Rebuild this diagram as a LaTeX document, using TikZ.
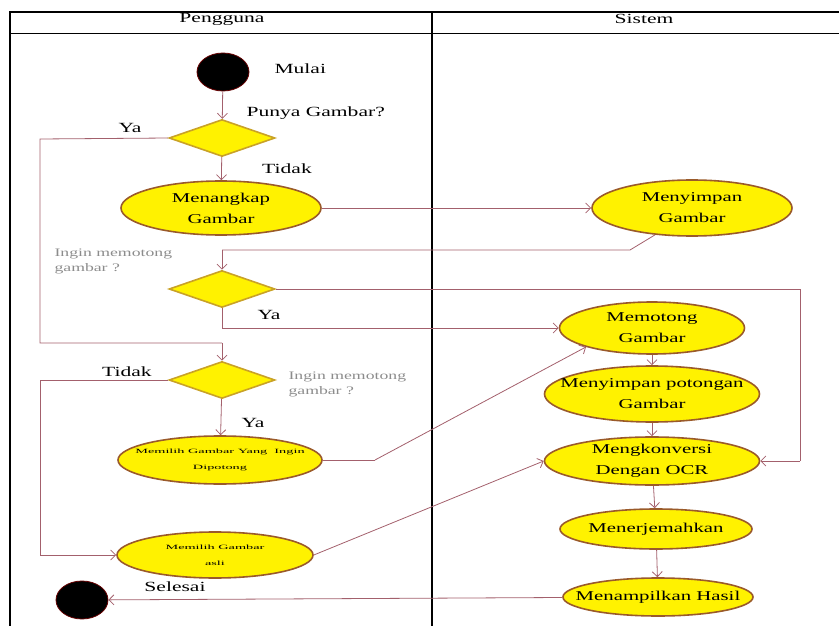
\documentclass[tikz,border=0pt]{standalone}
\usepackage{fontspec}
\setmainfont{Liberation Serif}[FakeStretch=1.54]
\newfontfamily\tinyserif{Liberation Serif}[FakeStretch=2.2]
\usepackage{tikz}
\usetikzlibrary{positioning}
\usetikzlibrary{arrows,arrows.meta,shapes}
\usetikzlibrary{shapes.geometric}
\definecolor{flowcol}{HTML}{A3606C}
\definecolor{rimcol}{HTML}{9A5A2A}
\definecolor{diacol}{HTML}{C9A227}
\definecolor{actfill}{HTML}{FFF200}
\tikzstyle{activity}=[ellipse,draw=rimcol,line width=1.6pt,fill=actfill,inner xsep=-45pt,inner ysep=-20pt,align=center,font=\fontsize{13.5}{21}\selectfont]
\tikzstyle{smallactivity}=[activity,font=\tinyserif\fontsize{6.5}{16}\selectfont]
\tikzstyle{decision}=[diamond,draw=diacol,line width=1.6pt,fill=actfill,inner sep=0pt,minimum width=106pt,minimum height=37pt]
\tikzstyle{terminal}=[ellipse,fill=black,draw=black!60!red,line width=0.8pt,minimum width=52pt,minimum height=38pt,inner sep=0pt]
\tikzstyle{flow} = [draw,flowcol,line width=0.8pt,-{Straight Barb[length=5pt,width=10pt]}]
\tikzstyle{line} = [draw,flowcol,line width=0.8pt]
\tikzstyle{guard} = [font=\fontsize{14}{16}\selectfont]
\tikzstyle{note} = [font=\fontsize{11.5}{15}\selectfont,text=black!45,align=left]

\begin{document}
\begin{tikzpicture}[x=1pt,y=-1pt]
    \useasboundingbox (0,0) rectangle (839,626);

    % swimlanes
    \draw[line width=1.6pt] (839,12) -- (10,12) -- (10,626);
    \draw[line width=0.8pt] (10,33) -- (839,33);
    \draw[line width=1.2pt] (432,12) -- (432,626);
    \node[guard] (pengguna) at (222,19) {Pengguna};
    \node[guard] (sistem) at (644,19) {Sistem};

    % Pengguna lane
    \node[terminal] (mulai) at (223,72) {};
    \node[decision] (punya) at (222,138) {};
    \node[activity,minimum width=200pt,minimum height=54pt] (menangkap) at (221,208) {Menangkap\\Gambar};
    \node[decision] (potong1) at (222,289) {};
    \node[decision] (potong2) at (222,380) {};
    \node[smallactivity,minimum width=204pt,minimum height=48pt] (pilihpotong) at (220,460) {Memilih Gambar Yang\ \ Ingin\\Dipotong};
    \node[smallactivity,minimum width=196pt,minimum height=46pt] (pilihasli) at (215,555) {Memilih Gambar\\asli};
    \node[terminal] (selesai) at (82,600) {};

    % Sistem lane
    \node[activity,minimum width=200pt,minimum height=56pt] (simpan) at (692,208) {Menyimpan\\Gambar};
    \node[activity,minimum width=185pt,minimum height=52pt] (memotong) at (652,328) {Memotong\\Gambar};
    \node[activity,minimum width=215pt,minimum height=56pt] (simpanpotong) at (652,394) {Menyimpan potongan\\Gambar};
    \node[activity,minimum width=215pt,minimum height=48pt] (konversi) at (652,461) {Mengkonversi\\Dengan OCR};
    \node[activity,minimum width=192pt,minimum height=40pt] (terjemah) at (656,529) {Menerjemahkan};
    \node[activity,minimum width=190pt,minimum height=38pt] (hasil) at (658,597) {Menampilkan Hasil};

    % texts
    \node[guard,anchor=west] (lblmulai) at (271,69) {Mulai};
    \node[guard,anchor=west] (lblpunya) at (243,113) {Punya Gambar?};
    \node[guard] (lblya1) at (130,128) {Ya};
    \node[guard] (lbltidak1) at (287,169) {Tidak};
    \node[note,anchor=west] (tanya1) at (51,261) {Ingin memotong\\gambar ?};
    \node[guard] (lblya2) at (269,315) {Ya};
    \node[guard] (lbltidak2) at (127,372) {Tidak};
    \node[note,anchor=west] (tanya2) at (285,384) {Ingin memotong\\gambar ?};
    \node[guard] (lblya3) at (253,423) {Ya};
    \node[guard] (lblselesai) at (175,587) {Selesai};

    % bend points
    \coordinate (kiri1) at (40,139);
    \coordinate (kiri1b) at (40,343);
    \coordinate (tengah1) at (222,343);
    \coordinate (belok1) at (630,250);
    \coordinate (tengah2) at (222,250);
    \coordinate (kanan1) at (800,289);
    \coordinate (kanan1b) at (800,461);
    \coordinate (ya2) at (222,328);
    \coordinate (kiri2) at (40,380);
    \coordinate (belok2) at (375,460);

    % connectors
    \path[flow] (mulai) -- (punya);
    \path[flow] (punya) -- (menangkap);
    \path[flow] (menangkap) -- (simpan);
    \path[line] (punya.west) -- (kiri1) -- (kiri1b) -- (tengah1);
    \path[flow] (tengah1) -- (potong2.north);
    \path[line] (simpan.-144) -- (belok1) -- (tengah2);
    \path[flow] (tengah2) -- (potong1.north);
    \path[line] (potong1.east) -- (kanan1) -- (kanan1b);
    \path[flow] (kanan1b) -- (konversi.east);
    \path[line] (potong1.south) -- (ya2);
    \path[flow] (ya2) -- (memotong.west);
    \path[line] (potong2.west) -- (kiri2);
    \path[flow] (kiri2) |- (pilihasli.west);
    \path[flow] (potong2) -- (pilihpotong);
    \path[line] (pilihpotong.east) -- (belok2);
    \path[flow] (belok2) -- (memotong.south west);
    \path[flow] (pilihasli.east) -- (konversi.west);
    \foreach \source/\dest in {memotong/simpanpotong, simpanpotong/konversi, konversi/terjemah, terjemah/hasil}
        \path[flow] (\source) -- (\dest);
    \path[flow] (hasil) -- (selesai);

\end{tikzpicture}
\end{document}
